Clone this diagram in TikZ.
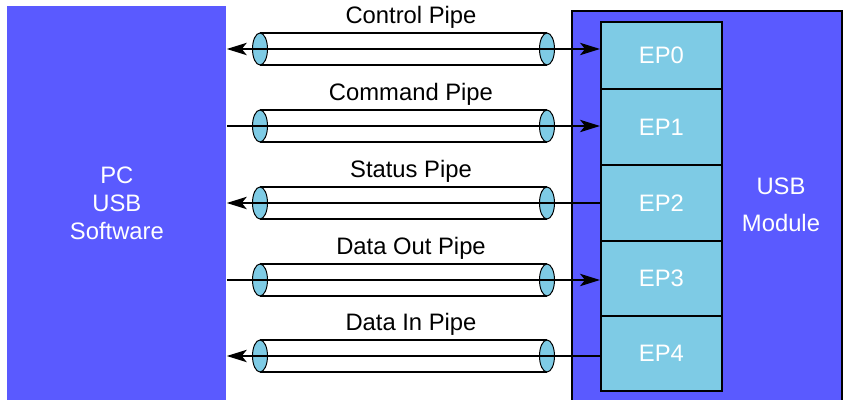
\documentclass[tikz,border=0pt]{standalone}
\usepackage{fontspec}
\setmainfont{Liberation Sans}
\usetikzlibrary{arrows.meta}
\definecolor{usbblue}{RGB}{90,90,255}
\definecolor{epblue}{RGB}{126,203,229}

\begin{document}
\begin{tikzpicture}[x=0.5pt,y=-0.5pt,
 font=\fontsize{11.9}{14}\selectfont,
 >={Stealth[length=10pt,width=6.2pt,inset=2.5pt]},
 epbox/.style={draw,line width=0.9pt,fill=epblue,text=white,minimum width=60.5pt,anchor=north west,inner sep=0pt}]
\useasboundingbox (0,0) rectangle (843,400);
 \node[fill=usbblue,anchor=north west,minimum width=109.5pt,minimum height=197pt,inner sep=0pt,text=white,align=center] (pc) at (7,6) {PC\\USB\\Software};
 \node[draw,line width=1pt,fill=usbblue,anchor=north west,minimum width=135pt,minimum height=200pt,inner sep=0pt] (module) at (571,10) {};
 \node[text=white,align=center,font=\fontsize{11.9}{18.5}\selectfont] (modtext) at (781,205) {USB\\Module};
%エンドポイント
 \node[epbox,minimum height=33.5pt] (ep0) at (600,21) {EP0};
 \node[epbox,minimum height=38pt] (ep1) at (600,88) {EP1};
 \node[epbox,minimum height=38pt] (ep2) at (600,164) {EP2};
 \node[epbox,minimum height=37.5pt] (ep3) at (600,240) {EP3};
 \node[epbox,minimum height=37.5pt] (ep4) at (600,315) {EP4};
%パイプ
 \foreach \i/\y/\lbl/\dir in {0/49/Control Pipe/<->, 1/126/Command Pipe/->, 2/203/Status Pipe/<-, 3/280/Data Out Pipe/->, 4/356/Data In Pipe/<-}{
  \draw[line width=0.65pt] (260,\y-16) -- (547,\y-16) (260,\y+16) -- (547,\y+16);
  \draw[line width=0.5pt,fill=epblue] (260,\y) ellipse [x radius=3.75pt,y radius=8pt] (547,\y) ellipse [x radius=3.75pt,y radius=8pt];
  \draw[\dir,line width=0.75pt] (pc.east |- 0,\y) -- (ep\i.west |- 0,\y);
  \node[anchor=base] (lbl\i) at (411,\y-25) {\lbl};
 }
\end{tikzpicture}
\end{document}
